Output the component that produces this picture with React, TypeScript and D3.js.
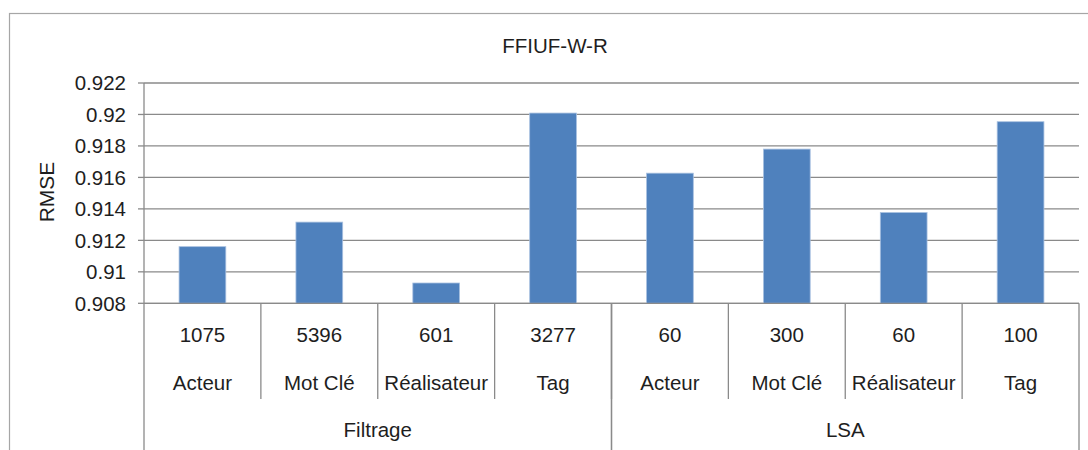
import React from "react";
import * as d3 from "d3";

const title = "FFIUF-W-R";
const yLabel = "RMSE";
const categories = ["Acteur", "Mot Clé", "Réalisateur", "Tag", "Acteur", "Mot Clé", "Réalisateur", "Tag"];
const counts = ["1075", "5396", "601", "3277", "60", "300", "60", "100"];
const groups = ["Filtrage", "LSA"];
const groupOf = [0, 0, 0, 0, 1, 1, 1, 1];
const values = [0.9116, 0.91316, 0.90929, 0.92009, 0.91627, 0.9178, 0.91377, 0.91954];
const yTicks = [0.908, 0.91, 0.912, 0.914, 0.916, 0.918, 0.92, 0.922];

const W = 1088;
const H = 450;
const left = 144;
const right = 1079;
const top = 83;
const bottom = 303.3;
const font = "'Liberation Sans', Arial, sans-serif";
const txt = "#1e1e1e";
const grid = "#8a8a8a";

export default function App() {
  const idx = categories.map((_, i) => String(i));
  const x = d3.scaleBand<string>().domain(idx).range([left, right]).paddingInner(0).paddingOuter(0);
  const y = d3.scaleLinear().domain([0.908, 0.922]).range([bottom, top]);
  const bw = x.bandwidth() * 0.4;
  const fmt = (v: number) => String(+v.toFixed(3));

  const groupBounds = groups.map((_, g) => {
    const members = idx.filter((_, i) => groupOf[i] === g);
    const x0 = x(members[0])!;
    const x1 = x(members[members.length - 1])! + x.bandwidth();
    return { x0, x1 };
  });

  return (
    <div style={{ position: "fixed", left: 0, top: 0 }}>
      <svg width={W} height={H} style={{ display: "block", background: "#fff" }}>
        <rect x={9.5} y={13.5} width={W + 20} height={H + 20} fill="#fff" stroke="#a6a6a6" strokeWidth={1.2} />
        <text x={555} y={53} textAnchor="middle" fontFamily={font} fontSize={20.5} fill={txt}>{title}</text>
        <text transform={`translate(54,${192}) rotate(-90)`} textAnchor="middle" fontFamily={font} fontSize={21} fill={txt}>{yLabel}</text>
        {yTicks.map((t) => (
          <g key={t}>
            <line x1={left} x2={right} y1={y(t)} y2={y(t)} stroke={grid} strokeWidth={1.3} />
            <line x1={left - 6} x2={left} y1={y(t)} y2={y(t)} stroke={grid} strokeWidth={1.3} />
            <text x={126} y={y(t) + 7.3} textAnchor="end" fontFamily={font} fontSize={20.5} fill={txt}>{fmt(t)}</text>
          </g>
        ))}
        <line x1={left} x2={left} y1={top} y2={bottom} stroke={grid} strokeWidth={1.3} />
        {values.map((v, i) => {
          const cx = x(String(i))! + x.bandwidth() / 2;
          return (
            <rect key={i} x={cx - bw / 2} y={y(v)} width={bw} height={bottom - y(v)} fill="#4f81bd" stroke="#a9c1e0" strokeWidth={0.8} />
          );
        })}
        {idx.map((k, i) => {
          const cx = x(k)! + x.bandwidth() / 2;
          return (
            <g key={k}>
              <text x={cx} y={342} textAnchor="middle" fontFamily={font} fontSize={20.5} fill={txt}>{counts[i]}</text>
              <text x={cx} y={390} textAnchor="middle" fontFamily={font} fontSize={20.5} fill={txt}>{categories[i]}</text>
            </g>
          );
        })}
        {idx.slice(1).map((k) => (
          <line key={k} x1={x(k)!} x2={x(k)!} y1={bottom} y2={399} stroke={grid} strokeWidth={1.3} />
        ))}
        {groupBounds.map((b, g) => (
          <g key={g}>
            <line x1={b.x0} x2={b.x0} y1={bottom} y2={H} stroke={grid} strokeWidth={1.3} />
            <line x1={b.x1} x2={b.x1} y1={bottom} y2={H} stroke={grid} strokeWidth={1.3} />
            <text x={(b.x0 + b.x1) / 2} y={437} textAnchor="middle" fontFamily={font} fontSize={20.5} fill={txt}>{groups[g]}</text>
          </g>
        ))}
        <line x1={left} x2={right} y1={bottom} y2={bottom} stroke={grid} strokeWidth={1.3} />
      </svg>
    </div>
  );
}
